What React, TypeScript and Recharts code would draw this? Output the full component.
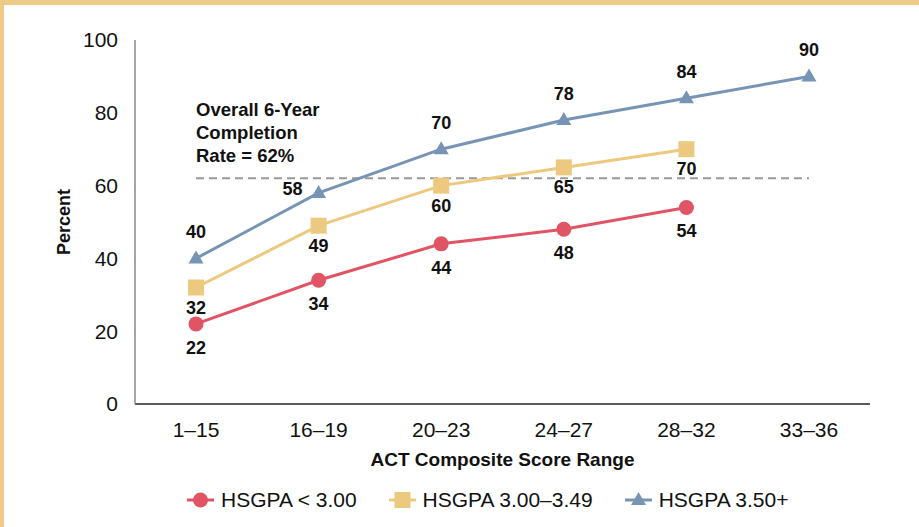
import {
  LineChart,
  Line,
  XAxis,
  YAxis,
  Legend,
  LabelList,
  ReferenceLine,
  ReferenceDot,
} from 'recharts'

const RANGES = ['1–15', '16–19', '20–23', '24–27', '28–32', '33–36']
const GPA_LOW = [22, 34, 44, 48, 54, null]
const GPA_MID = [32, 49, 60, 65, 70, null]
const GPA_HIGH = [40, 58, 70, 78, 84, 90]
const Y_TICKS = [0, 20, 40, 60, 80, 100]
const OVERALL_RATE = 62
const NOTE_LINES = ['Overall 6-Year', 'Completion', 'Rate = 62%']

const SERIES = [
  { key: 'low', name: 'HSGPA < 3.00', color: '#E05466', marker: 'circle' },
  { key: 'mid', name: 'HSGPA 3.00–3.49', color: '#EDC97F', marker: 'square' },
  { key: 'high', name: 'HSGPA 3.50+', color: '#7894B4', marker: 'triangle' },
]

const FONT = '"Liberation Sans", Arial, Helvetica, sans-serif'
const BORDER = '#EECB86'

const chartData = RANGES.map((range, i) => ({
  range,
  low: GPA_LOW[i],
  mid: GPA_MID[i],
  high: GPA_HIGH[i],
}))

function Marker({ type, cx, cy, color }: { type: string; cx: number; cy: number; color: string }) {
  if (type === 'circle') return <circle cx={cx} cy={cy} r={7.5} fill={color} />
  if (type === 'square') return <rect x={cx - 8} y={cy - 8} width={16} height={16} fill={color} />
  return <polygon points={`${cx},${cy - 8} ${cx + 7.5},${cy + 5} ${cx - 7.5},${cy + 5}`} fill={color} />
}

const makeDot = (type: string, color: string) => (props: any) => {
  const { cx, cy, index, value } = props
  if (value == null || cx == null || cy == null) return <g key={index} />
  return <Marker key={index} type={type} cx={cx} cy={cy} color={color} />
}

const makeLabel = (dy: number, leftIndex = -1) => (props: any) => {
  const { x, y, value, index } = props
  if (value == null) return null
  const left = index === leftIndex
  return (
    <text
      x={left ? x - 26 : x}
      y={left ? y - 4 : y + dy}
      textAnchor="middle"
      dominantBaseline="central"
      fontFamily={FONT}
      fontSize={18}
      fontWeight="bold"
      fill="#111"
    >
      {value}
    </text>
  )
}

function NoteText(props: any) {
  const { cx, cy } = props
  return (
    <g>
      {NOTE_LINES.map((t, i) => (
        <text
          key={t}
          x={cx}
          y={cy - 62 + i * 23}
          fontFamily={FONT}
          fontSize={18.5}
          fontWeight="bold"
          fill="#111"
        >
          {t}
        </text>
      ))}
    </g>
  )
}

function PercentLabel(props: any) {
  const { viewBox } = props
  const x = viewBox.x - 11
  const y = viewBox.y + viewBox.height / 2
  return (
    <text
      x={x}
      y={y}
      transform={`rotate(-90, ${x}, ${y})`}
      textAnchor="middle"
      dominantBaseline="central"
      fontFamily={FONT}
      fontSize={18}
      fontWeight="bold"
      fill="#111"
    >
      Percent
    </text>
  )
}

function LegendContent() {
  return (
    <div style={{ display: 'flex', alignItems: 'center', fontFamily: FONT, fontSize: 21, color: '#111' }}>
      {SERIES.map((s) => (
        <div key={s.key} style={{ display: 'flex', alignItems: 'center', marginRight: 32 }}>
          <svg width={27} height={20} style={{ marginRight: 7 }}>
            <line x1={0} y1={10} x2={27} y2={10} stroke={s.color} strokeWidth={3} />
            <Marker type={s.marker} cx={13.5} cy={10} color={s.color} />
          </svg>
          <span>{s.name}</span>
        </div>
      ))}
    </div>
  )
}

export default function App() {
  return (
    <div style={{ position: 'fixed', left: 0, top: 0, width: 919, height: 527, background: '#fff' }}>
      <LineChart
        width={919}
        height={527}
        data={chartData}
        margin={{ top: 40, right: 49, left: 75, bottom: 9 }}
      >
        <XAxis
          dataKey="range"
          interval={0}
          height={84}
          padding={{ left: 61, right: 61 }}
          axisLine={{ stroke: '#222', strokeWidth: 1.5 }}
          tickLine={false}
          tickSize={0}
          tickMargin={18}
          tick={{ fill: '#111', fontSize: 21, fontFamily: FONT }}
          label={{
            value: 'ACT Composite Score Range',
            position: 'insideBottom',
            offset: 22,
            fill: '#111',
            fontSize: 19,
            fontWeight: 'bold',
            fontFamily: FONT,
          }}
        />
        <YAxis
          width={60}
          domain={[0, 100]}
          ticks={Y_TICKS}
          axisLine={{ stroke: '#888', strokeWidth: 1.5 }}
          tickLine={false}
          tickSize={0}
          tickMargin={17}
          tick={{ fill: '#111', fontSize: 21, fontFamily: FONT }}
          label={{ content: PercentLabel }}
        />
        <ReferenceLine
          segment={[
            { x: RANGES[0], y: OVERALL_RATE },
            { x: RANGES[RANGES.length - 1], y: OVERALL_RATE },
          ]}
          stroke="#999"
          strokeWidth={2}
          strokeDasharray="8 5"
        />
        <ReferenceDot x={RANGES[0]} y={OVERALL_RATE} r={0} shape={NoteText} />
        <Legend
          verticalAlign="bottom"
          align="left"
          wrapperStyle={{ height: 30, left: 187, width: 'auto' }}
          content={LegendContent}
        />
        {SERIES.map((s) => (
          <Line
            key={s.key}
            dataKey={s.key}
            name={s.name}
            stroke={s.color}
            strokeWidth={3}
            dot={makeDot(s.marker, s.color)}
            activeDot={false}
            isAnimationActive={false}
          >
            <LabelList
              dataKey={s.key}
              content={makeLabel(s.key === 'high' ? -26 : s.key === 'mid' ? 20 : 24, s.key === 'high' ? 1 : -1)}
            />
          </Line>
        ))}
      </LineChart>
      <div style={{ position: 'absolute', left: 0, top: 0, width: 919, height: 5, background: BORDER }} />
      <div style={{ position: 'absolute', left: 0, top: 0, width: 4, height: 527, background: BORDER }} />
    </div>
  )
}
